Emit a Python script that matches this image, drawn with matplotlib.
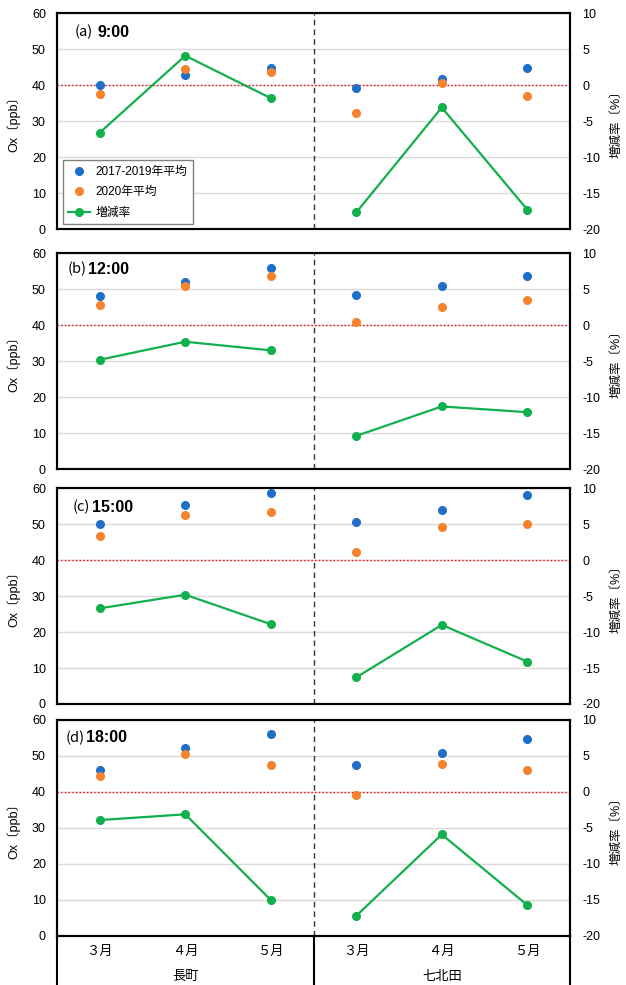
import numpy as np
import matplotlib.pyplot as plt

plt.rcParams['font.family'] = ['Liberation Sans', 'Noto Sans CJK JP']
plt.rcParams['axes.unicode_minus'] = False

months = ['３月', '４月', '５月']
sites = ['長町', '七北田']
hours = ['9:00', '12:00', '15:00', '18:00']
tags = ['(a)', '(b)', '(c)', '(d)']

# 2017-2019年平均 [ppb]
avg_1719 = [
    [40.1, 42.8, 44.7, 39.3, 41.7, 44.7],
    [48.1, 52.1, 55.8, 48.3, 50.9, 53.6],
    [50.2, 55.4, 58.6, 50.6, 54.0, 58.2],
    [46.1, 52.1, 56.0, 47.4, 50.8, 54.6],
]
# 2020年平均 [ppb]
avg_2020 = [
    [37.5, 44.6, 43.8, 32.4, 40.6, 36.9],
    [45.7, 50.8, 53.8, 40.9, 45.1, 47.0],
    [46.8, 52.7, 53.4, 42.3, 49.2, 50.0],
    [44.4, 50.5, 47.6, 39.3, 47.9, 46.0],
]
# 増減率 [%]
rate = [
    [-6.6, 4.1, -1.8, -17.7, -3.1, -17.3],
    [-4.8, -2.3, -3.5, -15.4, -11.3, -12.1],
    [-6.7, -4.8, -8.9, -16.3, -9.0, -14.1],
    [-3.9, -3.1, -15.0, -17.2, -5.9, -15.7],
]

c_blue = '#1f6fc8'
c_orange = '#f5822e'
c_green = '#12b04c'

W, H = 626, 985
fig = plt.figure(figsize=(W / 100, H / 100), dpi=100)

left_px, right_px = 57, 570
panels_px = [(13.3, 229), (253.3, 469), (488.3, 704), (720, 936)]
tag_x = [0.035, 0.021, 0.031, 0.016]
tag_gap = [3, 1, 1, 1]
tag_y = [0.912, 0.926, 0.912, 0.917]

x = np.arange(6)
for k, (top, bot) in enumerate(panels_px):
    ax = fig.add_axes([left_px / W, 1 - bot / H, (right_px - left_px) / W, (bot - top) / H])
    ax2 = ax.twinx()

    ax.set_xlim(-0.5, 5.5)
    ax.set_ylim(0, 60)
    ax.set_yticks(range(0, 61, 10))
    ax2.set_ylim(-20, 10)
    ax2.set_yticks(range(-20, 11, 5))
    ax.grid(axis='y', color='#d9d9d9', lw=1)
    ax.set_axisbelow(True)
    ax.axhline(40, color='red', ls=':', lw=1, zorder=1.5)
    ax.axvline(2.5, color='#333333', ls=(0, (4, 3)), lw=1)

    p1, = ax.plot(x, avg_1719[k], 'o', color=c_blue, ms=5.5, zorder=3, label='2017-2019年平均')
    p2, = ax.plot(x, avg_2020[k], 'o', color=c_orange, ms=5.5, zorder=3, label='2020年平均')
    p3, = ax2.plot(x[:3], rate[k][:3], '-o', color=c_green, ms=5.5, lw=1.6, label='増減率')
    ax2.plot(x[3:], rate[k][3:], '-o', color=c_green, ms=5.5, lw=1.6)

    for a in (ax, ax2):
        a.tick_params(length=0, labelsize=9)
        for s in a.spines.values():
            s.set_linewidth(1.5)
            s.set_color('black')
    ax.tick_params(axis='y', pad=8)
    ax2.tick_params(axis='y', pad=9)
    ax.set_xticks([])

    ax.set_ylabel('Ox〔ppb〕', fontsize=9)
    ax.yaxis.set_label_coords(-0.072, 0.5)
    ax2.set_ylabel('増減率〔%〕', fontsize=9)
    ax2.yaxis.set_label_coords(1.078, 0.5)

    t = ax.text(tag_x[k], tag_y[k], tags[k], transform=ax.transAxes,
                fontsize=10.5, va='center', ha='left', family='Noto Sans CJK JP')
    ax.annotate(hours[k], xy=(1, 0.5), xycoords=t, xytext=(tag_gap[k], 0),
                textcoords='offset points', fontsize=11.5, fontweight='bold',
                va='center', ha='left')

    if k == 0:
        leg = ax.legend(handles=[p1, p2, p3], loc='lower left',
                        bbox_to_anchor=(0.012, 0.023), borderaxespad=0,
                        fontsize=8.5, fancybox=False, framealpha=1,
                        edgecolor='#808080', handlelength=1.8,
                        handletextpad=0.5, labelspacing=0.72, borderpad=0.45)
        leg.get_frame().set_linewidth(1)
        leg.set_zorder(10)

    if k == 3:
        tr = ax.get_xaxis_transform()
        for xv in (-0.5, 2.5, 5.5):
            ax.plot([xv, xv], [0, -0.24], color='black', lw=1.5,
                    transform=tr, clip_on=False)
        for i in range(6):
            ax.text(i, -0.075, months[i % 3], transform=tr, ha='center',
                    va='center', fontsize=9.5)
        for j, s in enumerate(sites):
            ax.text(1 + 3 * j, -0.19, s, transform=tr, ha='center',
                    va='center', fontsize=9.5)

fig.savefig('out.png', dpi=100)
